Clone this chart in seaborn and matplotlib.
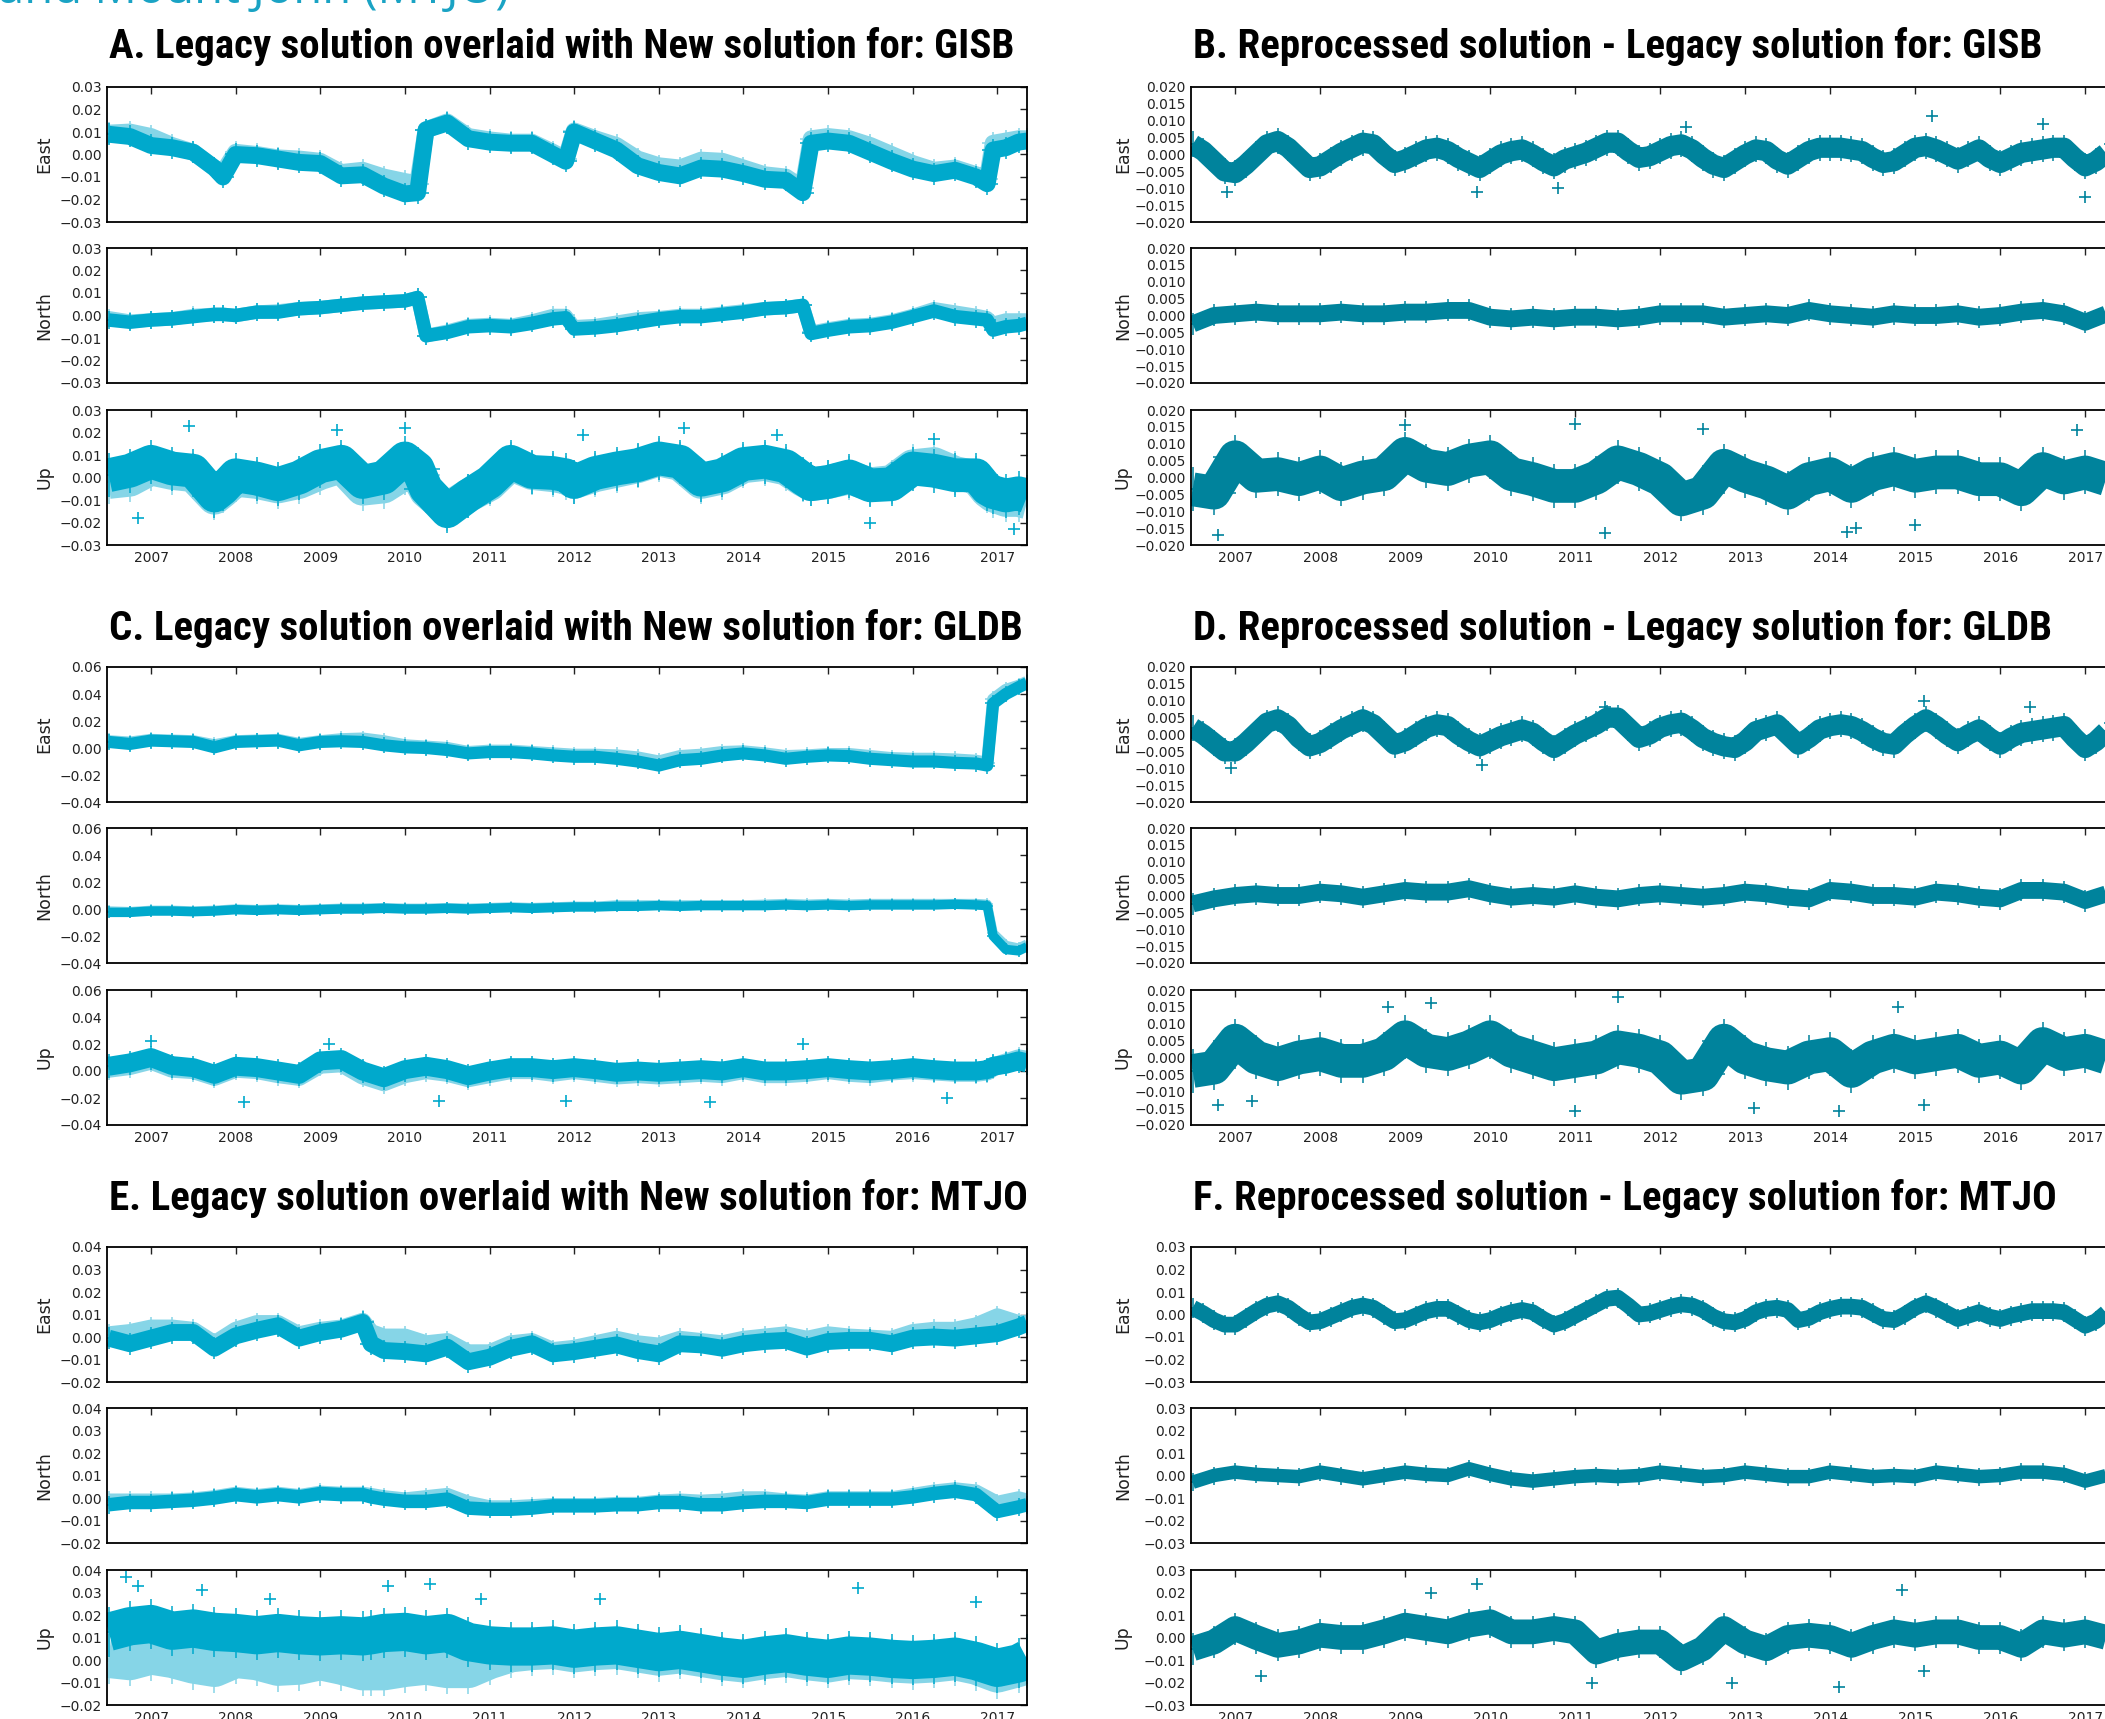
import numpy as np
import pandas as pd
import matplotlib
matplotlib.use("Agg")
import matplotlib.pyplot as plt
from matplotlib.ticker import FuncFormatter
import seaborn as sns

# ---------------------------------------------------------------- data (mm)
# sample dates (decimal years)
t_gisb = [2006.5, 2006.75,
          2007.0, 2007.25, 2007.5, 2007.75, 2007.85,
          2008.0, 2008.25, 2008.5, 2008.75,
          2009.0, 2009.25, 2009.5, 2009.75,
          2010.0, 2010.15, 2010.25, 2010.5, 2010.75,
          2011.0, 2011.25, 2011.5, 2011.75, 2011.9,
          2012.0, 2012.25, 2012.5, 2012.75,
          2013.0, 2013.25, 2013.5, 2013.75,
          2014.0, 2014.25, 2014.5, 2014.7, 2014.8,
          2015.0, 2015.25, 2015.5, 2015.75,
          2016.0, 2016.25, 2016.5, 2016.75, 2016.88, 2016.95,
          2017.1, 2017.25, 2017.35]
t_gldb = [2006.5, 2006.75,
          2007.0, 2007.25, 2007.5, 2007.75,
          2008.0, 2008.25, 2008.5, 2008.75,
          2009.0, 2009.25, 2009.5, 2009.75,
          2010.0, 2010.25, 2010.5, 2010.75,
          2011.0, 2011.25, 2011.5, 2011.75,
          2012.0, 2012.25, 2012.5, 2012.75,
          2013.0, 2013.25, 2013.5, 2013.75,
          2014.0, 2014.25, 2014.5, 2014.75,
          2015.0, 2015.25, 2015.5, 2015.75,
          2016.0, 2016.25, 2016.5, 2016.75,
          2016.88, 2016.95, 2017.1, 2017.25, 2017.35]
t_mtjo = [2006.5, 2006.75,
          2007.0, 2007.25, 2007.5, 2007.75,
          2008.0, 2008.25, 2008.5, 2008.75,
          2009.0, 2009.25, 2009.5, 2009.6, 2009.75,
          2010.0, 2010.25, 2010.5, 2010.75,
          2011.0, 2011.25, 2011.5, 2011.75,
          2012.0, 2012.25, 2012.5, 2012.75,
          2013.0, 2013.25, 2013.5, 2013.75,
          2014.0, 2014.25, 2014.5, 2014.75,
          2015.0, 2015.25, 2015.5, 2015.75,
          2016.0, 2016.25, 2016.5, 2016.75,
          2017.0, 2017.25, 2017.35]
t_quarter = np.arange(2006.5, 2017.3, 0.25)   # 44 dates
t_eighth = np.arange(2006.5, 2017.4, 0.125)   # 88 dates

# A. GISB, new and legacy solution
gisb_east_new = [9, 8, 4, 3, 1, -6, -10, 0, -0.5, -2,
                 -3.5, -4, -9.5, -9, -14, -17.5, -17, 11, 14, 7,
                 5.5, 5, 5, 0, -3, 10, 6, 2, -5, -8,
                 -9.5, -6, -6.5, -8.5, -11, -11.5, -17, 5, 6, 5,
                 1, -3, -6.5, -8.5, -7, -10, -13, 2, 3, 5.5, 6]
gisb_east_old = [9.5, 10, 8, 4, 1, -6, -8, 1, 0, -1.5,
                 -2, -3, -8, -7, -10, -12, -13, 11, 14.5, 8,
                 6.5, 5.5, 5.5, 1, -2, 10.5, 7, 4, -2, -5,
                 -6, -2.5, -3, -6, -9, -10, -15, 7, 8, 7,
                 4, 0, -4, -7, -6, -9, -11, 5, 6, 7, 7]
gisb_north_new = [-2, -3, -2, -1.5, -0.5, 0.5, 0.5, 0, 1.5, 1.5,
                  3, 3.5, 4.5, 5.5, 6, 6.5, 8, -9, -7.5, -5,
                  -4.5, -5, -3.5, -1.5, -1, -6, -5.5, -4.5, -3, -1.5,
                  -0.5, -0.5, 0.5, 1.5, 3, 3.5, 4.5, -8, -6.5, -5,
                  -4.5, -3, -0.5, 2, -0.5, -1.5, -2, -6.5, -5, -4.5, -3.5]
gisb_north_old = [-1, -2.5, -2, -1.5, 0, 0.5, 0.5, 0, 1.5, 2,
                  3, 3.5, 4.5, 5.5, 6, 6.5, 8, -9, -7, -4.5,
                  -4, -4.5, -2.5, 0, 0, -5, -4.5, -3, -1.5, -1,
                  0, 0, 1, 2, 3, 3.5, 4.5, -7.5, -6, -4.5,
                  -4, -2.5, 0, 3, 1.5, 0, -1, -3.5, -2, -2, -2]
gisb_up_new = [1, 3, 7, 4, 3, -8, -5, 1, -0.5, -3,
               0, 5, 7, -2, 0, 8.5, 4, -5, -15, -8,
               -2, 7, 2.5, 2, 1, -2, 2, 4, 5.5, 8.5,
               7, -1, 1, 6, 7, 5, -0.5, -3, -2, 0.5,
               -3.5, -3, 4, 3, 1, 1, -5, -6.5, -8, -7, -8.5]
gisb_up_old = [-2, -1, 4, 2, 1, -9, -6, -1, -2, -4,
               -2, 2, 5, -5, -4, 2, 1, -6, -14, -8,
               -3, 6, 2, 1, 0, -2, 1, 3, 5, 8,
               6, -2, 0, 5, 6, 4, -1, -3, -2, 0,
               -3, -2, 5, 6, 2, 0, -6, -8, -10, -10, -11]
# isolated epochs well outside the band
gisb_up_out_t = [2006.85, 2007.45, 2009.2, 2010.0, 2012.1, 2013.3, 2014.4, 2015.5, 2016.25, 2017.2]
gisb_up_out_v = [-18, 23, 21, 22, 19, 22, 19, -20, 17, -23]

# B. GISB, reprocessed minus legacy
gisb_east_diff = [3, 1, -2, -5,
                  -5.5, -3, 0, 3, 4, 2, -1, -4,
                  -3.5, -1.5, 0.5, 2, 3.5, 3, 0, -2.5,
                  -1.5, 0, 1.5, 2, 1, -1, -2.5, -4,
                  -2, 0, 1, 1.5, 0, -2, -3.5, -1.5,
                  -0.5, 0.5, 2, 3.5, 3.5, 1, -1, -0.5,
                  1, 2.5, 3, 1.5, -1, -3, -4, -2,
                  0, 1.5, 1, -1.5, -3, -1, 1, 2,
                  2, 2, 1.5, 1, -1, -2.5, -2, 0,
                  2, 2.5, 1.5, 0, -1.5, 0, 1.5, -1,
                  -2.5, -1, 0.5, 1, 1.5, 2, 2, -1,
                  -3.5, -2, 0.5, 3]
gisb_north_diff = [-2.5, 0, 0.5, 1, 0.5, 0.5, 0.5, 1, 0.5, 0.5,
                   1, 1, 1.5, 1.5, -0.5, -1, -0.5, -1, -0.5, -0.5,
                   -1, -0.5, 0.5, 0.5, 0.5, -0.5, 0, 0.5, 0, 1.5,
                   0.5, 0, -0.5, 0.5, 0, 0, 0.5, -0.5, 0, 1,
                   1.5, 0.5, -2, 0.5]
gisb_up_diff = [-3.5, -4.5, 6, 0.5, 1, -0.5, 1.5, -2, 0, 1,
                7, 3.5, 2.5, 5, 6, 1, -0.5, -2.5, -2.5, 0,
                4.5, 2.5, -0.5, -6.5, -4.5, 3.5, 0.5, -1.5, -4.5, -0.5,
                1, -2.5, 1, 2.5, 0.5, 1.5, 1.5, -0.5, -0.5, -3.5,
                2.5, 0, 1.5, -0.5]
gisb_east_diff_out_t = [2006.9, 2009.85, 2010.8, 2012.3, 2015.2, 2016.5, 2017.0]
gisb_east_diff_out_v = [-11, -11, -10, 8, 11.5, 9, -12.5]
gisb_up_diff_out_t = [2006.8, 2009.0, 2011.0, 2011.35, 2012.5, 2014.2, 2014.3, 2015.0, 2016.9, 2017.3]
gisb_up_diff_out_v = [-17, 15.5, 16, -16.5, 14.5, -16, -15, -14, 14, -14]

# C. GLDB, new and legacy solution
gldb_east_new = [4.5, 3, 5.5, 5, 4.5, 0.5, 4.5, 5, 5.5, 2,
                 4.5, 5, 4.5, 2, 0.5, 0, -1.5, -4, -3, -3,
                 -4, -5.5, -6.5, -6.5, -8, -10, -13, -9, -8, -5.5,
                 -4, -5.5, -8, -6.5, -5.5, -6, -8, -9, -10, -10,
                 -11, -11.5, -13, 33, 40, 45, 48]
gldb_east_old = [5, 4, 6, 5.5, 5, 2, 5, 5.5, 6, 3,
                 5, 6.5, 7, 5, 2, 1, 0, -3, -2, -2,
                 -3, -4, -5, -5, -5.5, -7, -10, -6, -5, -3,
                 -2.5, -4, -6, -5.5, -4.5, -4.5, -6, -7.5, -8, -8,
                 -8.5, -9.5, -11, 36, 43, 46, 49]
gldb_north_new = [-2.5, -2.5, -1.5, -1.5, -2, -1.5, -0.5, -1, -0.5, -1,
                  -0.5, 0, 0, 0.5, 0, 0, 0.5, 0, 0.5, 1,
                  0.5, 1, 1.5, 1.5, 2, 2, 2.5, 2, 2.5, 2.5,
                  2.5, 2.5, 3, 2.5, 3, 2.5, 3, 3, 3, 3,
                  3.5, 3, 2.5, -20, -30, -31, -28]
gldb_north_old = [-1.5, -2, -1, -1, -1.5, -1, 0, -0.5, 0, -0.5,
                  0, 0.5, 0.5, 1, 0.5, 0.5, 1, 0.5, 1, 1.5,
                  1, 1.5, 2, 2, 3, 3, 3, 3, 3, 3,
                  3, 3.5, 4, 3.5, 4, 3.5, 4, 4, 4, 4,
                  4, 4, 3.5, -18, -27, -29, -26]
gldb_up_new = [3.5, 6, 10, 4, 2.5, -2.5, 3.5, 2.5, 0, -2.5,
               7.5, 8.5, 0, -5, 1, 3.5, 1, -3.5, 0, 2.5,
               2.5, 1, 2.5, 1, -1, 0, -1, 0, 1, 0,
               2.5, 0, 0, 1, 2.5, 1, 0, 1, 2.5, 1,
               0, 0, 1, 3.5, 5, 7.5, 6]
gldb_up_old = [2, 4, 8, 2, 1, -4, 2, 1, -2, -4,
               5, 6, -3, -8, -2, 1, -1, -5, -2, 1,
               1, -1, 1, -1, -3, -2, -3, -2, -1, -2,
               1, -2, -2, -1, 1, -1, -2, 0, 1, 0,
               -1, -1, 0, 3, 6, 9, 8]
gldb_up_out_t = [2007.0, 2008.1, 2009.1, 2010.4, 2011.9, 2013.6, 2014.7, 2016.4]
gldb_up_out_v = [22, -23, 20, -22, -22, -23, 20, -20]

# D. GLDB, reprocessed minus legacy
gldb_east_diff = [2, 0, -2.5, -5,
                  -5, -2.5, 0.5, 3.5, 4.5, 2.5, -1, -3.5,
                  -2.5, -0.5, 1.5, 3, 4.5, 3, 0, -3,
                  -2, 0, 2, 3, 2.5, 0, -2, -3.5,
                  -2, -0.5, 0.5, 1.5, 0.5, -2, -4, -2,
                  0, 1.5, 3, 5, 5, 2, -1, 0,
                  2, 3, 3.5, 1.5, -1, -2.5, -3.5, -4,
                  -2, 1, 2, 3, 0, -3, -1, 1.5,
                  2.5, 3, 2.5, 1, -1, -2.5, -3, 0,
                  2.5, 4.5, 2.5, 0, -2, 0, 1.5, -1,
                  -3, -1, 0.5, 1, 1.5, 2, 2.5, -1,
                  -4, -2, 1, 3.5]
gldb_north_diff = [-2.5, -1, 0, 0.5, 0, 0, 1, 0.5, -0.5, 0.5,
                   1.5, 1, 1, 2, 0.5, -0.5, 0, -0.5, 0.5, -0.5,
                   -1, 0, 0.5, 0, -0.5, 0, 1, 0.5, -0.5, -1,
                   1.5, 1, 0, 0, -0.5, 1, 0.5, -0.5, -1, 1.5,
                   1.5, 1, -1.5, 0.5]
gldb_up_diff = [-4, -3, 5, 0, -2, 0, 1, -1, -1, 1,
                6, 2, 1, 3, 6, 2, 0, -2, -1, 0,
                3, 2, 0, -6, -5, 5, 0, -2, -3, 0,
                1, -4, 0, 2, 0, 1, 2, -1, 0, -3,
                4, 1, 2, 0]
gldb_east_diff_out_t = [2006.95, 2009.9, 2011.35, 2015.1, 2016.35]
gldb_east_diff_out_v = [-10, -9, 8, 10, 8]
gldb_up_diff_out_t = [2006.8, 2007.2, 2008.8, 2009.3, 2011.0, 2011.5, 2013.1, 2014.1, 2014.8, 2015.1]
gldb_up_diff_out_v = [-14, -13, 15, 16, -16, 18, -15, -16, 15, -14]

# E. MTJO, new and legacy solution
mtjo_east_new = [-0.5, -3, -0.5, 2, 2, -5, 0.5, 3, 5, -0.5,
                 2, 3.5, 6.5, -3, -6, -6.5, -7.5, -4.5, -11, -9,
                 -5, -3, -7.5, -6.5, -5, -3.5, -6, -7.5, -3, -3.5,
                 -5, -3, -2, -1.5, -4.5, -2, -1.5, -1.5, -3, -0.5,
                 0, -0.5, 0.5, 1.5, 4.5, 6]
mtjo_east_old = [1, 2, 4, 4, 3, -3, 3, 6, 6, 1,
                 3, 4, 7, 2, 0, 0, -3, -2, -7, -7,
                 -3, -2, -6, -5, -3, -1, -3, -4, -1, -2,
                 -3, -1, 0, 1, -1, 1, 0, -0.5, -1, 2,
                 3, 3, 5, 9, 6, 6]
mtjo_north_new = [-3, -2, -2, -1.5, -1, 0, 1.5, 0.5, 1.5, 0.5,
                  2, 1.5, 1.5, 0.5, -0.5, -1.5, -1.5, -0.5, -4.5, -5,
                  -5, -4.5, -3.5, -3.5, -3.5, -3, -3, -2, -2, -3,
                  -3, -2, -1.5, -1.5, -2, -0.5, -0.5, -0.5, -0.5, 0.5,
                  2, 3, 1.5, -6, -4, -3]
mtjo_north_old = [-1, -1, -1, -1, -0.5, 0.5, 2, 1, 2, 1,
                  2.5, 2, 2, 1.5, 0.5, -0.5, 0.5, 1.5, -2, -4,
                  -4, -3.5, -3, -3, -3, -2.5, -2.5, -1.5, -1, -1.5,
                  -1, 0, 0, -1, -1.5, 0, 0, 0, 0, 1.5,
                  3, 4, 3, -2, 0, -1]
mtjo_up_new = [12.5, 15, 16, 13, 14, 12.5, 12, 11, 12, 11,
               10.5, 11, 10.5, 11, 12, 12.5, 11, 12, 8, 6.5,
               6, 6, 6.5, 5, 6, 6.5, 5, 3.5, 4.5, 3,
               1.5, 0.5, 2, 3, 1.5, 0.5, 2, 1.5, 0.5, 0,
               0.5, 1.5, -0.5, -3.5, -1.5, 0.5]
mtjo_up_old = [0.5, -0.5, 2, 0.5, -2, -3.5, 0.5, -0.5, -3, -2.5,
               -0.5, -2.5, -5, -5, -5, -3.5, -2.5, -4, -4, 0,
               3, 4, 4.5, 3, 4, 4.5, 3, 1.5, 2.5, 1,
               -0.5, -1.5, 0, 1, -0.5, -1.5, 0, -0.5, -1.5, -2,
               -1.5, -0.5, -2.5, -6, -3.5, -1.5]
mtjo_up_out_t = [2006.7, 2006.85, 2007.6, 2008.4, 2009.8, 2010.3, 2010.9, 2012.3, 2015.35, 2016.75]
mtjo_up_out_v = [37, 33, 31, 27, 33, 34, 27, 27, 32, 26]

# F. MTJO, reprocessed minus legacy
mtjo_east_diff = [3, 0.5, -2.5, -4.5,
                  -4.5, -1.5, 1.5, 4, 5, 3, -0.5, -3.5,
                  -3, -1, 1, 3, 4, 3, 0, -3,
                  -2.5, -0.5, 1.5, 2.5, 2.5, 0, -2.5, -3.5,
                  -2.5, -0.5, 1, 2, 1, -2, -4.5, -3,
                  -0.5, 2, 4.5, 7, 7.5, 4, 0, 0.5,
                  2, 3.5, 4.5, 4, 2, -1, -3, -3.5,
                  -2, 1, 2.5, 3, 2, -2.5, -1.5, 1,
                  2.5, 3.5, 3.5, 3, 0.5, -2, -2.5, 0,
                  3, 5, 3, 0.5, -2, -0.5, 1, -1,
                  -2, -0.5, 0.5, 1.5, 1.5, 1.5, 1, -2,
                  -5, -3, 1, 4]
mtjo_north_diff = [-3, 0, 1.5, 0.5, 0, -0.5, 1.5, 0, -1.5, 0,
                   1.5, 0.5, 0, 3, 0.5, -1.5, -2.5, -1.5, -0.5, 0,
                   -0.5, 0, 1.5, 0.5, -0.5, 0, 1.5, 0.5, -0.5, -0.5,
                   1.5, 0.5, -0.5, 0, -0.5, 1.5, 0.5, -0.5, 0, 1.5,
                   1.5, 0.5, -2.5, 0]
mtjo_up_diff = [-5, -2, 4, 0, -3.5, -2, 1, 0, 0, 2.5,
                5.5, 4, 2.5, 5.5, 7, 2.5, 2.5, 4, 2.5, -6.5,
                -3.5, -2, -2, -9.5, -5, 4, -2, -5, 0, 1,
                0, -3.5, 0, 2.5, 1, 2.5, 2.5, 0, 0, -3.5,
                2.5, 1, 2.5, 0]
mtjo_up_diff_out_t = [2007.3, 2009.3, 2009.85, 2011.2, 2012.85, 2014.1, 2014.85, 2015.1]
mtjo_up_diff_out_v = [-17, 20, 24, -20, -20, -22, 21, -15]

components = ["East", "North", "Up"]
years = list(range(2007, 2018))

titles = ["A. Legacy solution overlaid with New solution for: GISB",
          "B. Reprocessed solution - Legacy solution for: GISB",
          "C. Legacy solution overlaid with New solution for: GLDB",
          "D. Reprocessed solution - Legacy solution for: GLDB",
          "E. Legacy solution overlaid with New solution for: MTJO",
          "F. Reprocessed solution - Legacy solution for: MTJO"]

# ---------------------------------------------------------------- style
NEW = "#00a9cc"
OLD = "#86d5e7"
DIFF = "#00839c"

sns.set_style("white")
plt.rcParams["font.family"] = ["DejaVu Sans"]

W, H = 2105, 1719
fig = plt.figure(figsize=(W / 100, H / 100), dpi=100)

col_x = [(107, 920), (1191, 924)]
block_top = [87, 667, 1247]
row_off = [0, 161, 323]
ax_h = 135
ax_h_pt = ax_h * 72 / 100


def make_ax(x, w, top):
    return fig.add_axes([x / W, 1 - (top + ax_h) / H, w / W, ax_h / H])


def fmt(decimals):
    def f(v, pos):
        s = f"{round(v, decimals) + 0:.{decimals}f}"
        return s.replace("-", "\u2212")
    return FuncFormatter(f)


def draw(ax, t, layers, ylim, step, decimals, label, bottom, labx, outliers=None):
    span = ylim[1] - ylim[0]
    z = 2
    for vals, color, spread in layers:
        df = pd.DataFrame({"year": t, "disp": np.asarray(vals) / 1000.0})
        lw = spread / 1000.0 / span * ax_h_pt
        sns.lineplot(data=df, x="year", y="disp", ax=ax, color=color,
                     linewidth=lw, errorbar=None, solid_joinstyle="round",
                     solid_capstyle="butt", zorder=z)
        # '+' marks a little taller than the band give the ragged edge
        sns.scatterplot(data=df, x="year", y="disp", ax=ax, color=color,
                        edgecolor=color, marker="+", s=(lw * 1.3) ** 2,
                        linewidth=1.1, zorder=z + 0.1)
        z += 0.2
    if outliers is not None:
        od = pd.DataFrame({"year": outliers[0], "disp": np.asarray(outliers[1]) / 1000.0})
        sns.scatterplot(data=od, x="year", y="disp", ax=ax, color=layers[-1][1],
                        edgecolor=layers[-1][1], marker="+", s=70,
                        linewidth=1.2, zorder=z)
    ax.set_xlim(2006.48, 2017.35)
    ax.set_ylim(*ylim)
    ax.set_xticks(years)
    ax.set_xticklabels([str(y) for y in years])
    ax.set_yticks(np.linspace(ylim[0], ylim[1], int(round(span / step)) + 1))
    ax.yaxis.set_major_formatter(fmt(decimals))
    ax.tick_params(direction="in", top=True, right=True, length=5, width=1,
                   labelsize=10, pad=4, colors="#222222",
                   labelbottom=bottom)
    for s in ax.spines.values():
        s.set_visible(True)
        s.set_color("black")
        s.set_linewidth(1.3)
    ax.set_xlabel("")
    ax.set_ylabel(label, fontsize=12.5, color="#222222")
    ax.yaxis.set_label_coords(labx, 0.5)


stations = [
    (t_gisb, [gisb_east_new, gisb_north_new, gisb_up_new],
     [gisb_east_old, gisb_north_old, gisb_up_old],
     [gisb_east_diff, gisb_north_diff, gisb_up_diff],
     [(-0.03, 0.03)] * 3, 0.01, 2, (-0.02, 0.02), 0.005, 3, [7.5, 6, 15], [6, 5, 10],
     [None, None, (gisb_up_out_t, gisb_up_out_v)],
     [(gisb_east_diff_out_t, gisb_east_diff_out_v), None, (gisb_up_diff_out_t, gisb_up_diff_out_v)]),
    (t_gldb, [gldb_east_new, gldb_north_new, gldb_up_new],
     [gldb_east_old, gldb_north_old, gldb_up_old],
     [gldb_east_diff, gldb_north_diff, gldb_up_diff],
     [(-0.04, 0.06)] * 3, 0.02, 2, (-0.02, 0.02), 0.005, 3, [9, 7, 14], [6, 5, 10],
     [None, None, (gldb_up_out_t, gldb_up_out_v)],
     [(gldb_east_diff_out_t, gldb_east_diff_out_v), None, (gldb_up_diff_out_t, gldb_up_diff_out_v)]),
    (t_mtjo, [mtjo_east_new, mtjo_north_new, mtjo_up_new],
     [mtjo_east_old, mtjo_north_old, mtjo_up_old],
     [mtjo_east_diff, mtjo_north_diff, mtjo_up_diff],
     [(-0.02, 0.04)] * 3, 0.01, 2, (-0.03, 0.03), 0.01, 2, [7.5, 6, 17], [7, 6, 11],
     [None, None, (mtjo_up_out_t, mtjo_up_out_v)],
     [None, None, (mtjo_up_diff_out_t, mtjo_up_diff_out_v)]),
]

title_y = [47, 628, 1199]
title_family = ["Roboto Condensed", "Liberation Sans Narrow", "Roboto", "DejaVu Sans"]
for b, (t, new, old, diff, ylims, step, dec, dlim, dstep, ddec, spr, dspr,
        outs, douts) in enumerate(stations):
    for r in range(3):
        top = block_top[b] + row_off[r]
        last = r == 2
        ax = make_ax(col_x[0][0], col_x[0][1], top)
        draw(ax, t, [(old[r], OLD, spr[r]), (new[r], NEW, spr[r])],
             ylims[r], step, dec, components[r], last, -0.058, outs[r])
        ax2 = make_ax(col_x[1][0], col_x[1][1], top)
        td = t_eighth if r == 0 else t_quarter
        draw(ax2, td, [(diff[r], DIFF, dspr[r])],
             dlim, dstep, ddec, components[r], last, -0.064, douts[r])

# panel titles, sized so that title A spans ~903 px like the reference
title_texts = []
for b in range(3):
    for c in range(2):
        tx = fig.text((col_x[c][0] + 2) / W, 1 - title_y[b] / H, titles[2 * b + c],
                      fontsize=29, fontweight="bold", ha="left", va="center",
                      family=title_family, color="black")
        title_texts.append(tx)
fig.canvas.draw()
renderer = fig.canvas.get_renderer()
w0 = title_texts[0].get_window_extent(renderer).width
size = min(29 * 903 / w0, 30)
for tx in title_texts:
    tx.set_fontsize(size)

# header line cut by the top edge
fig.text(-2 / W, 1 - 3 / H, "and Mount John (MTJO)", fontsize=34,
         color="#1aa3c4", ha="left", va="baseline",
         family=["Open Sans", "DejaVu Sans"])

fig.savefig("out.png", dpi=100)
